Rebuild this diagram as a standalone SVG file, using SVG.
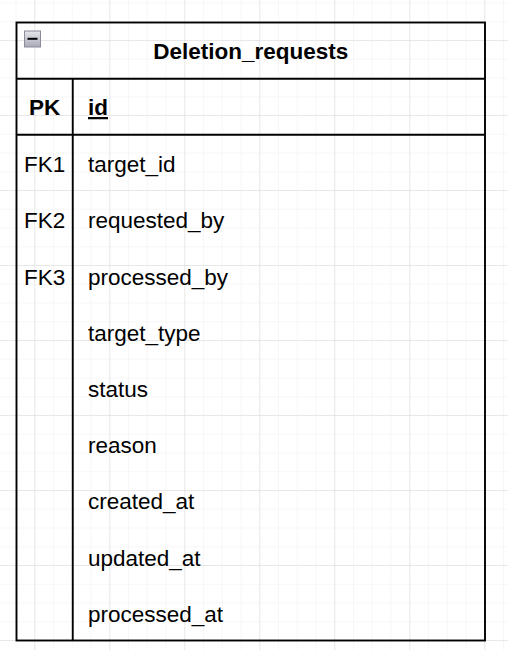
<svg xmlns="http://www.w3.org/2000/svg" width="508" height="650" viewBox="0 0 508 650">
  <defs>
    <pattern id="minor" patternUnits="userSpaceOnUse" x="15.55" y="2.5" width="18.75" height="18.75">
      <path d="M0 0V18.75M0 0H18.75" fill="none" stroke="#efefef" stroke-width="1"/>
    </pattern>
    <pattern id="major" patternUnits="userSpaceOnUse" x="34.3" y="40" width="75" height="75">
      <path d="M0 0V75M0 0H75" fill="none" stroke="#dadada" stroke-width="1"/>
    </pattern>
    <linearGradient id="icon" x1="0" y1="0" x2="0" y2="1">
      <stop offset="0" stop-color="#e6e6ec"/>
      <stop offset="1" stop-color="#a9a9b6"/>
    </linearGradient>
  </defs>
  <style>
    .t { font-family: "Liberation Sans", Arial, sans-serif; font-size: 22.5px; fill: #000; }
    .b { font-weight: bold; }
    .c { text-anchor: middle; }
    .ln { stroke: #000; stroke-width: 1.9; fill: none; }
  </style>
  <rect width="508" height="650" fill="#ffffff"/>
  <rect width="508" height="650" fill="url(#minor)"/>
  <rect width="508" height="650" fill="url(#major)"/>

  <g id="table-Deletion_requests">
    <rect x="16.5" y="22.5" width="468.5" height="618" class="ln"/>
    <g id="header">
      <line x1="16.5" y1="78.75" x2="485" y2="78.75" class="ln"/>
      <rect x="24.5" y="31" width="16" height="16" fill="url(#icon)" stroke="#8a8a98" stroke-width="1"/>
      <line x1="27.5" y1="38.8" x2="37.5" y2="38.8" stroke="#000" stroke-width="2"/>
      <text x="250.7" y="59.3" class="t b c">Deletion_requests</text>
    </g>
    <g id="pk-row">
      <line x1="16.5" y1="134.7" x2="485" y2="134.7" class="ln"/>
      <text x="44.6" y="115" class="t b c">PK</text>
      <text x="88" y="115" class="t b" text-decoration="underline">id</text>
    </g>
    <line x1="72.75" y1="78.75" x2="72.75" y2="640.5" class="ln"/>
    <g id="rows">
      <text x="44.6" y="172.1" class="t c">FK1</text>
      <text x="88" y="172.1" class="t">target_id</text>
      <text x="44.6" y="228.3" class="t c">FK2</text>
      <text x="88" y="228.3" class="t">requested_by</text>
      <text x="44.6" y="284.5" class="t c">FK3</text>
      <text x="88" y="284.5" class="t">processed_by</text>
      <text x="88" y="340.7" class="t">target_type</text>
      <text x="88" y="396.9" class="t">status</text>
      <text x="88" y="453.1" class="t">reason</text>
      <text x="88" y="509.3" class="t">created_at</text>
      <text x="88" y="565.5" class="t">updated_at</text>
      <text x="88" y="621.7" class="t">processed_at</text>
    </g>
  </g>
  <g id="connectors"/>
</svg>
